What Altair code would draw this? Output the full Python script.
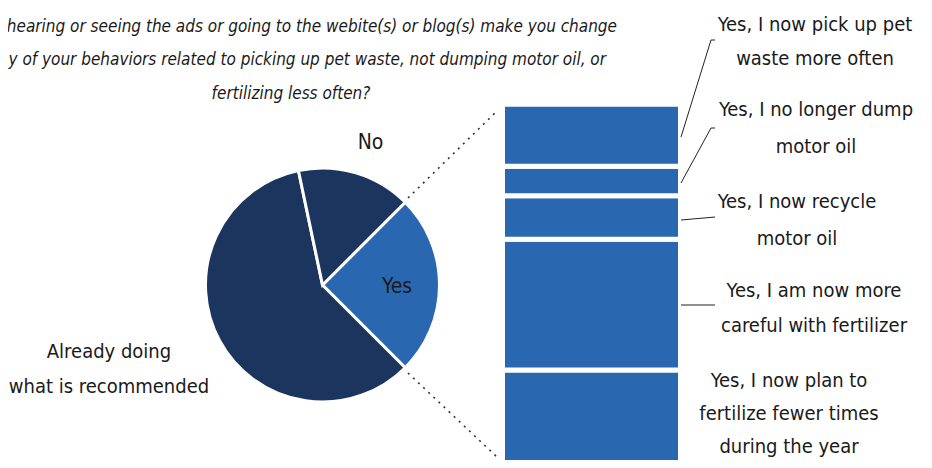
import math
import altair as alt
import pandas as pd

# ---------------- data ----------------
pie_cats = ["Yes", "Already doing what is recommended", "No"]
pie_vals = [25.0, 59.2, 15.8]
pie_colors = ["#2a67b1", "#1b355f", "#1b355f"]

bar_cats = [
    "Yes, I now plan to fertilize fewer times during the year",
    "Yes, I am now more careful with fertilizer",
    "Yes, I now recycle motor oil",
    "Yes, I no longer dump motor oil",
    "Yes, I now pick up pet waste more often",
]
bar_vals = [26.0, 36.4, 12.1, 8.2, 17.3]

title_lines = [
    "hearing or seeing the ads or going to the webite(s) or blog(s) make you change",
    "y of your behaviors related to picking up pet waste, not dumping motor oil, or",
    "fertilizing less often?",
]

FONT = "DejaVu Sans Condensed, Liberation Sans Narrow, sans-serif"
TXT = "#1a1a1a"

pie_df = pd.DataFrame({"cat": pie_cats, "v": pie_vals, "o": list(range(len(pie_cats)))})
bar_df = pd.DataFrame({"cat": bar_cats, "v": bar_vals, "o": list(range(len(bar_cats))),
                       "xa": [0] * len(bar_cats), "xb": [1] * len(bar_cats)})
one = pd.DataFrame({"a": [0]})

# ---------------- pie ----------------
pie = alt.Chart(pie_df).mark_arc(radius=117, stroke="white", strokeWidth=3).encode(
    theta=alt.Theta("v:Q", stack=True,
                    scale=alt.Scale(range=[math.pi / 4, math.pi / 4 + 2 * math.pi])),
    order=alt.Order("o:Q"),
    color=alt.Color("cat:N", scale=alt.Scale(domain=pie_cats, range=pie_colors), legend=None),
    x=alt.value(314.5),
    y=alt.value(277),
)

# ---------------- stacked bar ----------------
bar = alt.Chart(bar_df).transform_stack(
    stack="v", as_=["y0", "y1"], groupby=[], sort=[alt.SortField("o", order="ascending")]
).mark_bar(stroke="white", strokeWidth=5, color="#2a67b1").encode(
    y=alt.Y("y0:Q", axis=None, scale=alt.Scale(domain=[0, 100], range=[455.5, 96.2])),
    y2="y1:Q",
    x=alt.X("xa:Q", axis=None, scale=alt.Scale(domain=[0, 1], range=[494.5, 672.5])),
    x2="xb:Q",
)

layers = [pie, bar]

def seg(x1, y1, x2, y2, **kw):
    return alt.Chart(one).mark_rule(**kw).encode(
        x=alt.value(x1 - 8), y=alt.value(y1 - 8), x2=alt.value(x2 - 8), y2=alt.value(y2 - 8))

# dotted connectors
for (a, b, c, d) in [(408, 198, 496, 112), (408, 373, 497, 457)]:
    layers.append(seg(a, b, c, d, color="#333333", strokeWidth=1.6, strokeDash=[2, 5]))

# leader lines
for (a, b, c, d) in [(681, 137, 711, 40), (711, 40, 715, 40),
                     (681, 183, 711, 128), (711, 128, 715, 128),
                     (681, 220, 715, 217), (681, 305, 715, 305)]:
    layers.append(seg(a, b, c, d, color="#222222", strokeWidth=1))

def txt(text, x, y, size=20, align="center", italic=False, lh=35):
    kw = dict(font=FONT, fontSize=size, color=TXT, align=align, baseline="alphabetic",
              lineBreak="\n", lineHeight=lh)
    if italic:
        kw["fontStyle"] = "italic"
    return alt.Chart(one).mark_text(text=text, **kw).encode(x=alt.value(x), y=alt.value(y))

# title (clipped at the left in the original)
layers.append(txt(title_lines[0], 609, 24, size=17, align="right", italic=True))
layers.append(txt(title_lines[1], 598, 57, size=17, align="right", italic=True))
layers.append(txt(title_lines[2], 283, 91, size=17, italic=True))

# pie labels
layers.append(txt("No", 362.5, 141, size=21))
layers.append(txt("Yes", 389, 285, size=21))
layers.append(txt("Already doing\nwhat is recommended", 101, 350, size=20))

# bar labels
layers.append(txt("Yes, I now pick up pet\nwaste more often", 807, 23, lh=34))
layers.append(txt("Yes, I no longer dump\nmotor oil", 808, 108, lh=37))
layers.append(txt("Yes, I now recycle\nmotor oil", 789, 200, lh=37))
layers.append(txt("Yes, I am now more\ncareful with fertilizer", 806, 289))
layers.append(txt("Yes, I now plan to\nfertilize fewer times\nduring the year", 781, 379, lh=33))

chart = alt.layer(*layers).properties(
    width=916, height=452, padding=0,
    autosize=alt.AutoSizeParams(type="none"),
).configure_view(stroke=None)

chart.save("out.html", embed_options={"renderer": "svg", "actions": False})
